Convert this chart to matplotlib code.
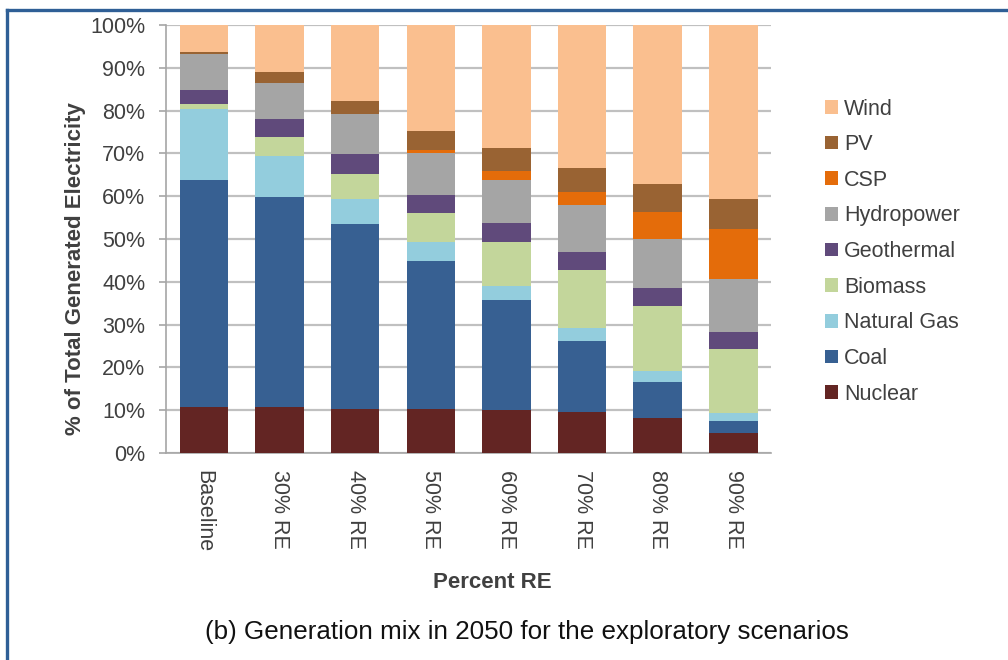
import numpy as np
import matplotlib
matplotlib.use("Agg")
import matplotlib.pyplot as plt
from matplotlib.patches import Patch
from matplotlib.lines import Line2D

plt.rcParams['font.family'] = ['Liberation Sans', 'DejaVu Sans']

scenarios = ["Baseline", "30% RE", "40% RE", "50% RE", "60% RE", "70% RE", "80% RE", "90% RE"]

# shares in % of total generated electricity, bottom to top
nuclear = [10.7, 10.7, 10.4, 10.4, 10.0, 9.7, 8.1, 4.6]
coal = [53.2, 49.2, 43.0, 34.5, 25.7, 16.5, 8.6, 2.9]
natural_gas = [16.5, 9.6, 6.0, 4.3, 3.3, 2.9, 2.5, 1.8]
biomass = [1.1, 4.4, 5.9, 6.8, 10.4, 13.7, 15.2, 15.0]
geothermal = [3.3, 4.1, 4.5, 4.4, 4.3, 4.2, 4.2, 4.0]
hydropower = [8.4, 8.4, 9.3, 9.8, 10.2, 10.9, 11.3, 12.3]
csp = [0.0, 0.0, 0.0, 0.6, 2.1, 3.0, 6.5, 11.7]
pv = [0.4, 2.6, 3.2, 4.5, 5.2, 5.6, 6.5, 7.0]
wind = [6.4, 11.0, 17.7, 24.7, 28.8, 33.5, 37.1, 40.7]

series = [
    ("Nuclear", nuclear, "#632523"),
    ("Coal", coal, "#376092"),
    ("Natural Gas", natural_gas, "#93CDDD"),
    ("Biomass", biomass, "#C3D69B"),
    ("Geothermal", geothermal, "#604A7B"),
    ("Hydropower", hydropower, "#A5A5A5"),
    ("CSP", csp, "#E46C0A"),
    ("PV", pv, "#996333"),
    ("Wind", wind, "#FABF8F"),
]

fig = plt.figure(figsize=(10.08, 6.6), dpi=100)
ax = fig.add_axes([0.1647, 0.3136, 0.6003, 0.6485])

x = np.arange(len(scenarios))
bottom = np.zeros(len(scenarios))
for name, vals, col in series:
    vals = np.array(vals)
    ax.bar(x, vals, 0.64, bottom=bottom, color=col, label=name, zorder=3)
    bottom += vals

ax.set_xlim(-0.5, len(scenarios) - 0.5)
ax.set_ylim(0, 100)
ax.set_yticks(np.arange(0, 101, 10))
ax.set_yticklabels([f"{v}%" for v in range(0, 101, 10)])
ax.set_xticks(x)
ax.set_xticklabels(scenarios, rotation=270)

ax.grid(axis='y', color='#C0C0C0', linewidth=1.6, zorder=0)
ax.set_axisbelow(True)
for s in ['top', 'right']:
    ax.spines[s].set_visible(False)
for s in ['left', 'bottom']:
    ax.spines[s].set_color('#A6A6A6')
    ax.spines[s].set_linewidth(1.2)

ax.tick_params(axis='y', length=5, width=1.2, color='#A6A6A6', pad=10,
               labelsize=15.5, labelcolor='#404040')
ax.tick_params(axis='x', length=0, pad=12, labelsize=15.5, labelcolor='#404040')

ax.set_ylabel("% of Total Generated Electricity", fontsize=16, fontweight='bold',
              color='#404040')
ax.yaxis.set_label_coords(-0.133, 0.43)
ax.set_xlabel("Percent RE", fontsize=16, fontweight='bold', color='#404040')
ax.xaxis.set_label_coords(0.539, -0.278)

handles = [Patch(facecolor=col, label=name) for name, _, col in series[::-1]]
fig.legend(handles=handles, loc='upper left', bbox_to_anchor=(0.799, 0.88),
           frameon=False, fontsize=15.5, handlelength=0.6, handleheight=0.6,
           handletextpad=0.3, labelspacing=0.68, labelcolor='#404040')

fig.text(0.523, 0.042, "(b) Generation mix in 2050 for the exploratory scenarios",
         ha='center', va='center', fontsize=18.7, color='#111111')

# blue frame of the source figure
fig.add_artist(Line2D([0.007, 1.0], [1 - 10 / 660, 1 - 10 / 660], transform=fig.transFigure,
                      color='#2F5F96', linewidth=2.4))
fig.add_artist(Line2D([0.007, 0.007], [0.0, 1 - 10 / 660], transform=fig.transFigure,
                      color='#2F5F96', linewidth=2.4))

fig.savefig("out.png", dpi=100)
